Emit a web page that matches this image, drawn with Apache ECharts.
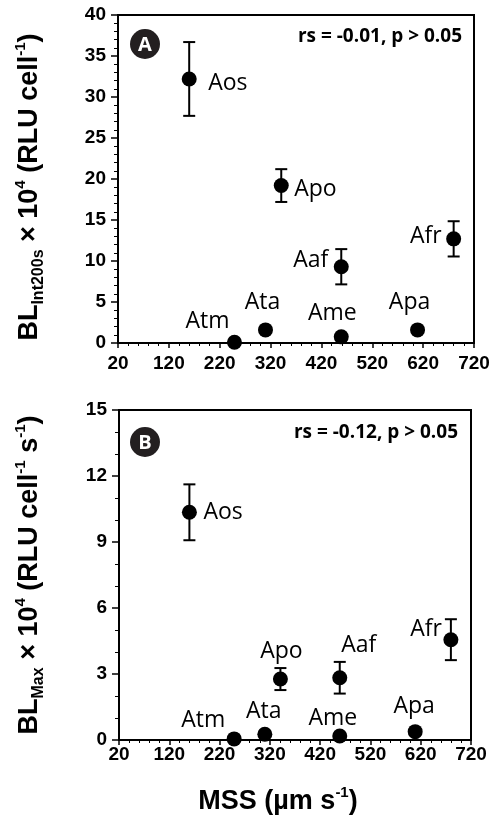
<!DOCTYPE html>
<html><head><meta charset="utf-8">
<script src="https://cdn.jsdelivr.net/npm/echarts@6/dist/echarts.min.js"></script>
<style>html,body{margin:0;padding:0;background:#fff}#c{width:496px;height:818px}</style>
</head><body><div id="c"></div>
<script>
// ---------------- DATA ----------------
const species = ['Aos', 'Apo', 'Aaf', 'Afr', 'Atm', 'Ata', 'Ame', 'Apa'];
const mss = [160, 341, 459, 680, 249, 310, 459, 609];
const blInt200s = [32.2, 19.2, 9.3, 12.7, 0.1, 1.6, 0.75, 1.6];
const blInt200sSD = [4.5, 2.0, 2.15, 2.15, 0, 0, 0, 0];
const blMax = [10.35, 2.77, 2.83, 4.56, 0.05, 0.26, 0.18, 0.38];
const blMaxSD = [1.27, 0.5, 0.72, 0.93, 0, 0, 0, 0];
const xAxisMin = 20, xAxisMax = 720, xAxisStep = 100;
const yAMax = 40, yAStep = 5;
const yBMax = 15, yBStep = 3;
const statTextA = 'rs = -0.01, p > 0.05';
const statTextB = 'rs = -0.12, p > 0.05';
const panelTags = ['A', 'B'];

// ---------------- STYLE (label placement relative to point, px) ----------------
const labelPlaceA = [
  ['left', 19, 4], ['left', 13, 4], ['right', -13, -6], ['right', -12, -2],
  ['center', -27, -21], ['center', -3, -27], ['center', -9, -23], ['center', -8, -27]
];
const labelPlaceB = [
  ['left', 14, 0], ['center', 1, -28], ['center', 19, -32], ['right', -9, -10],
  ['center', -31, -18], ['center', -1, -23], ['center', -7, -18], ['center', -1, -25]
];

const BLACK = '#000';
const tickFont = {fontFamily: 'Liberation Sans', fontWeight: 'bold', fontSize: 19, color: BLACK};

function errRender(params, api) {
  const x = api.value(0), lo = api.value(1), hi = api.value(2);
  const a = api.coord([x, lo]), b = api.coord([x, hi]);
  const cw = 6;
  const st = {stroke: BLACK, lineWidth: 2};
  return {type: 'group', children: [
    {type: 'line', shape: {x1: a[0], y1: a[1], x2: b[0], y2: b[1]}, style: st},
    {type: 'line', shape: {x1: b[0] - cw, y1: b[1], x2: b[0] + cw, y2: b[1]}, style: st},
    {type: 'line', shape: {x1: a[0] - cw, y1: a[1], x2: a[0] + cw, y2: a[1]}, style: st}
  ]};
}

function errData(vals, sds) {
  const out = [];
  for (let i = 0; i < vals.length; i++) {
    if (sds[i] > 0) out.push([mss[i], vals[i] - sds[i], vals[i] + sds[i]]);
  }
  return out;
}

function pointData(vals, place) {
  return vals.map((v, i) => ({
    value: [mss[i], v],
    name: species[i],
    label: {align: place[i][0], offset: [place[i][1], place[i][2]]}
  }));
}

function xAxisCfg(gi, margin) {
  return {
    gridIndex: gi, type: 'value', min: xAxisMin, max: xAxisMax, interval: xAxisStep,
    axisLine: {show: true, onZero: false, lineStyle: {color: BLACK, width: 2}},
    axisTick: {show: true, length: 5, lineStyle: {color: BLACK, width: 1.5}},
    minorTick: {show: true, splitNumber: 5, length: 3, lineStyle: {color: BLACK, width: 1}},
    splitLine: {show: false}, minorSplitLine: {show: false},
    axisLabel: Object.assign({margin: margin, showMinLabel: true, showMaxLabel: true, hideOverlap: false}, tickFont)
  };
}
function yAxisCfg(gi, max, step, minorSplit) {
  return {
    gridIndex: gi, type: 'value', min: 0, max: max, interval: step,
    axisLine: {show: true, onZero: false, lineStyle: {color: BLACK, width: 2}},
    axisTick: {show: true, length: 7, lineStyle: {color: BLACK, width: 1.5}},
    minorTick: {show: true, splitNumber: minorSplit, length: 4, lineStyle: {color: BLACK, width: 1}},
    splitLine: {show: false}, minorSplitLine: {show: false},
    axisLabel: Object.assign({margin: 12, showMinLabel: true, showMaxLabel: true}, tickFont)
  };
}

const labelStyle = {
  show: true, position: 'inside', formatter: '{b}',
  fontFamily: 'Open Sans', fontSize: 23, color: BLACK, verticalAlign: 'middle'
};

const titleRich = {
  b: {fontFamily: 'Liberation Sans', fontWeight: 'bold', fontSize: 27, color: BLACK, lineHeight: 34},
  sub: {fontFamily: 'Liberation Sans', fontWeight: 'bold', fontSize: 16, color: BLACK, verticalAlign: 'bottom'},
  sup: {fontFamily: 'Liberation Sans', fontWeight: 'bold', fontSize: 15, color: BLACK, verticalAlign: 'top', lineHeight: 20}
};

function badge(cx, cy, letter) {
  return [
    {type: 'circle', shape: {cx: cx, cy: cy, r: 15}, style: {fill: '#231f20'}},
    {type: 'text', x: cx, y: cy + 1, style: {text: letter, fill: '#fff', font: 'bold 20px "Open Sans"', align: 'center', verticalAlign: 'middle'}}
  ];
}

const chart = echarts.init(document.getElementById('c'), null, {renderer: 'canvas'});
chart.setOption({
  animation: false,
  backgroundColor: '#fff',
  grid: [
    {left: 118, top: 15, width: 356, height: 328, show: true, borderColor: BLACK, borderWidth: 2, backgroundColor: 'transparent', containLabel: false},
    {left: 119, top: 410, width: 352, height: 330, show: true, borderColor: BLACK, borderWidth: 2, backgroundColor: 'transparent', containLabel: false}
  ],
  xAxis: [xAxisCfg(0, 11), xAxisCfg(1, 5)],
  yAxis: [yAxisCfg(0, yAMax, yAStep, 5), yAxisCfg(1, yBMax, yBStep, 3)],
  series: [
    {type: 'custom', xAxisIndex: 0, yAxisIndex: 0, renderItem: errRender, data: errData(blInt200s, blInt200sSD), encode: {x: 0, y: [1, 2]}, clip: false, z: 2},
    {type: 'custom', xAxisIndex: 1, yAxisIndex: 1, renderItem: errRender, data: errData(blMax, blMaxSD), encode: {x: 0, y: [1, 2]}, clip: false, z: 2},
    {type: 'scatter', xAxisIndex: 0, yAxisIndex: 0, symbol: 'circle', symbolSize: 15, clip: false, z: 3,
      itemStyle: {color: BLACK, opacity: 1}, label: labelStyle, data: pointData(blInt200s, labelPlaceA)},
    {type: 'scatter', xAxisIndex: 1, yAxisIndex: 1, symbol: 'circle', symbolSize: 15, clip: false, z: 3,
      itemStyle: {color: BLACK, opacity: 1}, label: labelStyle, data: pointData(blMax, labelPlaceB)}
  ],
  graphic: [].concat(
    badge(145, 44, panelTags[0]),
    badge(145, 442, panelTags[1]),
    [
      {type: 'text', x: 462, y: 37, style: {text: statTextA, fill: BLACK, font: 'bold 19px "Open Sans"', align: 'right', verticalAlign: 'middle'}},
      {type: 'text', x: 458, y: 433, style: {text: statTextB, fill: BLACK, font: 'bold 19px "Open Sans"', align: 'right', verticalAlign: 'middle'}},
      {type: 'text', x: 30, y: 187, rotation: Math.PI / 2,
        style: {text: '{b|BL}{sub|Int200s}{b| × 10}{sup|4}{b| (RLU cell}{sup|-1}{b|)}', rich: titleRich, align: 'center', verticalAlign: 'middle'}},
      {type: 'text', x: 30, y: 575, rotation: Math.PI / 2,
        style: {text: '{b|BL}{sub|Max}{b| × 10}{sup|4}{b| (RLU cell}{sup|-1}{b| s}{sup|-1}{b|)}', rich: titleRich, align: 'center', verticalAlign: 'middle'}},
      {type: 'text', x: 278, y: 802,
        style: {text: '{b|MSS (µm s}{sup|-1}{b|)}', rich: titleRich, align: 'center', verticalAlign: 'middle'}}
    ]
  )
});
</script>
</body></html>
